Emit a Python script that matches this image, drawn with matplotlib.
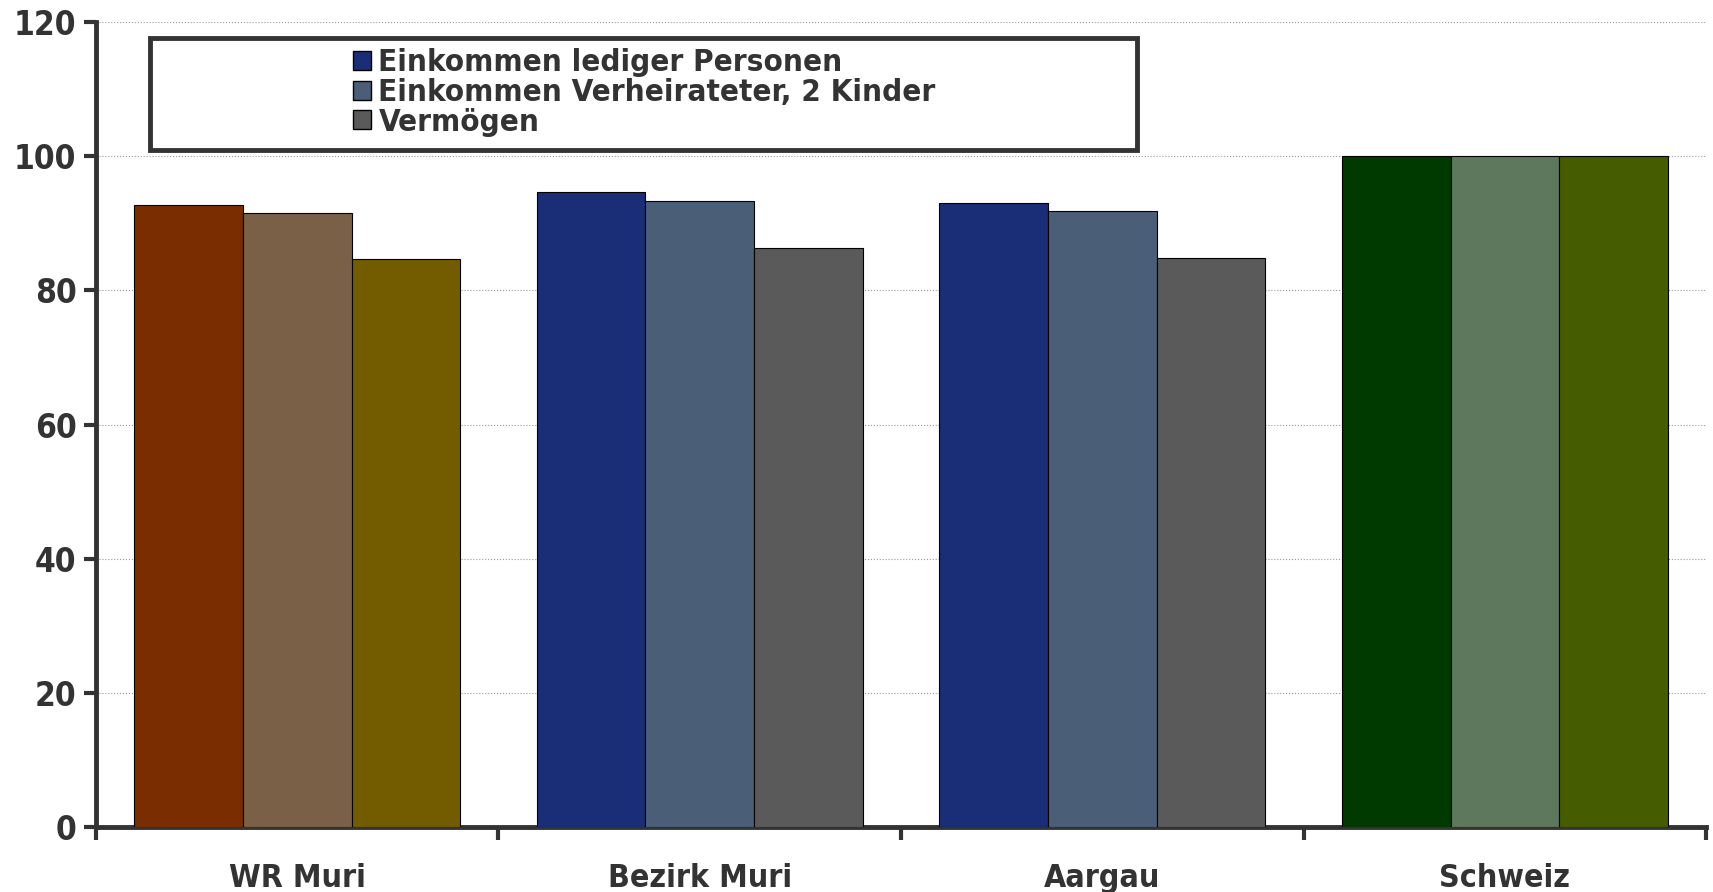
import numpy as np
import matplotlib
matplotlib.use("Agg")
import matplotlib.pyplot as plt
from matplotlib.patches import Rectangle, Patch

# Daten (Index, Schweiz = 100)
regionen = ['WR Muri', 'Bezirk Muri', 'Aargau', 'Schweiz']
serien = ['Einkommen lediger Personen', 'Einkommen Verheirateter, 2 Kinder', 'Vermögen']
einkommen_ledig = [92.8, 94.7, 93.1, 100]
einkommen_verh = [91.5, 93.4, 91.8, 100]
vermoegen = [84.7, 86.4, 84.9, 100]

# Farben je Region (ledig, verheiratet, Vermögen)
farben_wr = ['#7A2E00', '#7A6047', '#735C00']
farben_std = ['#1A2E78', '#4A5E78', '#5A5A5A']
farben_ch = ['#003A00', '#5E785E', '#455C00']
farben = [farben_wr, farben_std, farben_std, farben_ch]

textfarbe = '#333333'
plt.rcParams['font.family'] = ['DejaVu Sans']
plt.rcParams['font.weight'] = 'bold'
plt.rcParams['font.stretch'] = 'condensed'

fig = plt.figure(figsize=(17.13, 8.92), dpi=100)
ax = fig.add_axes([0.056, 0.073, 0.940, 0.902])

x = np.arange(len(regionen))
breite = 0.27
werte = [einkommen_ledig, einkommen_verh, vermoegen]
for i, serie in enumerate(werte):
    for j in range(len(regionen)):
        ax.bar(x[j] + (i - 1) * breite, serie[j], width=breite,
               color=farben[j][i], edgecolor='black', linewidth=0.8, zorder=3)

ax.set_xlim(-0.5, 3.5)
ax.set_ylim(0, 120)
ax.set_yticks(range(0, 121, 20))
ax.grid(axis='y', color='#999999', linewidth=0.8, linestyle=':', zorder=0)

# Ticks an den Kategoriegrenzen, Beschriftung in der Mitte
ax.set_xticks(np.arange(-0.5, 4, 1))
ax.set_xticklabels([])
ax.set_xticks(x, minor=True)
ax.set_xticklabels(regionen, minor=True)
ax.tick_params(axis='x', which='major', direction='out', length=9, width=3, color=textfarbe)
ax.tick_params(axis='x', which='minor', length=0, pad=26, labelsize=23, labelcolor=textfarbe)
ax.tick_params(axis='y', direction='out', length=9, width=3, color=textfarbe,
               labelsize=24, labelcolor=textfarbe, pad=5)
for lab in ax.get_yticklabels() + ax.get_xticklabels(minor=True):
    lab.set_fontweight('bold')

for s in ['top', 'right']:
    ax.spines[s].set_visible(False)
for s in ['left', 'bottom']:
    ax.spines[s].set_linewidth(3.5)
    ax.spines[s].set_color(textfarbe)

# Legendenrahmen
ax.add_patch(Rectangle((0.0335, 0.841), 0.613, 0.140, transform=ax.transAxes,
                       facecolor='white', edgecolor=textfarbe, linewidth=3.5, zorder=5))
handles = [Patch(facecolor=c, edgecolor='black', linewidth=1) for c in farben_std]
leg = ax.legend(handles, serien, loc='upper left', bbox_to_anchor=(0.152, 0.983),
                frameon=False, fontsize=22.5, handlelength=0.56, handleheight=0.56,
                handletextpad=0.25, labelspacing=0.02, borderaxespad=0)
leg.set_zorder(6)
for t in leg.get_texts():
    t.set_color(textfarbe)
    t.set_fontweight('bold')

fig.savefig('out.png', dpi=100)
